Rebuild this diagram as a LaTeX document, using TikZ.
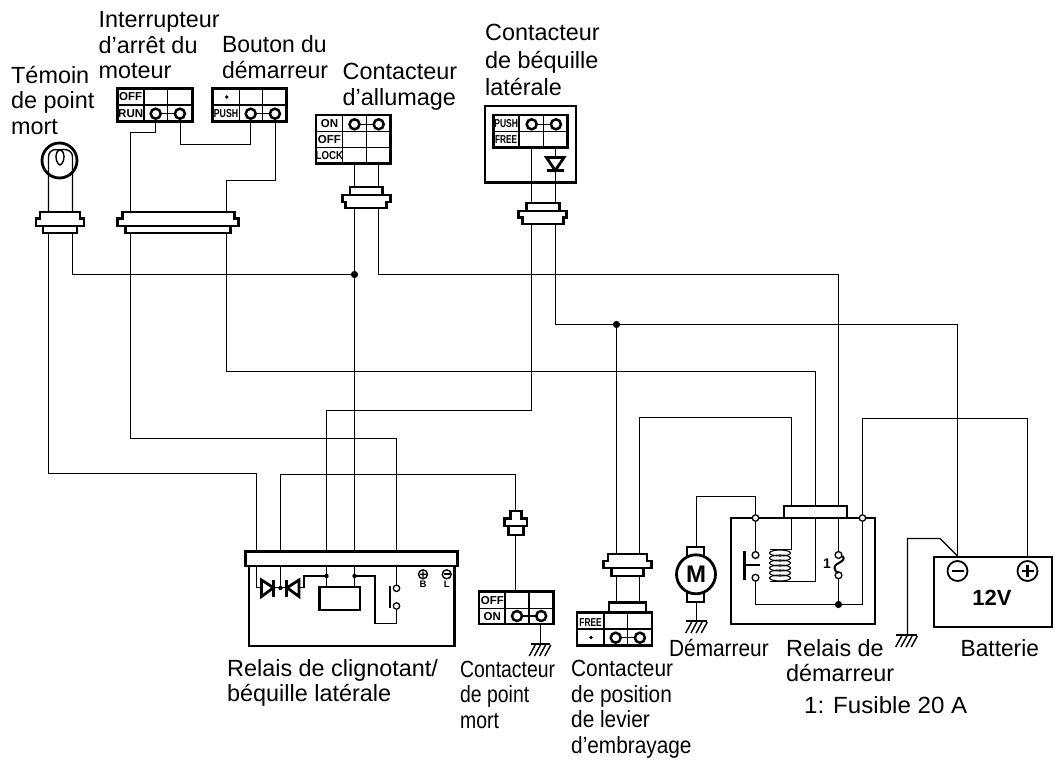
\documentclass[tikz,border=0pt]{standalone}
\usepackage{fontspec}
\setmainfont{Liberation Sans}
\tikzset{
  wire/.style={line width=1.4pt,black,line join=miter},
  heavy/.style={line width=2.8pt,black,line join=miter},
  grid/.style={line width=1.3pt,black},
  lbl/.style={font=\fontsize{23.4}{25.5}\selectfont,inner sep=0pt,anchor=base west,transform shape},
  tag/.style={font=\fontsize{11.5}{11.5}\selectfont\bfseries,inner sep=0pt,transform shape},
  term/.style={line width=2.5pt,fill=white,draw=black},
  odot/.style={line width=1.3pt,fill=white,draw=black},
  bdot/.style={fill=black,draw=none}
}
\newcommand{\conn}[9]{% cx y1 y2 y3 y4 h1 h2 h3 ycross
  \draw[heavy,fill=white] ({#1-#6},#2) -- ({#1+#6},#2) -- ({#1+#6},#3) -- ({#1+#7},#3) -- ({#1+#7},#4)
    -- ({#1+#8},#4) -- ({#1+#8},#5) -- ({#1-#8},#5) -- ({#1-#8},#4) -- ({#1-#7},#4) -- ({#1-#7},#3) -- ({#1-#6},#3) -- cycle;
  \draw[heavy] ({#1-#7},#9) -- ({#1+#7},#9);}
\newcommand{\gnd}[3]{% x y half
  \draw[heavy] ({#1-#3},#2) -- ({#1+#3},#2);
  \foreach \k in {-1.5,-.5,.5,1.5}{\draw[wire] ({#1+\k*5.2+3},{#2+1}) -- ({#1+\k*5.2-3},{#2+12});}}
\newcommand{\sw}[2]{% x y of a pair of rings joined
  \draw[wire] (#1,#2) -- ++(24,0);
  \draw[term] (#1,#2) circle[radius=5];
  \draw[term] ({#1+24.2},#2) circle[radius=5];}
\begin{document}
\begin{tikzpicture}[x=1pt,y=-1pt]
\useasboundingbox (0,0) rectangle (1059,760);
% terminals
\coordinate (lampL) at (48.5,233);
\coordinate (lampR) at (72.5,233);
\coordinate (motL) at (130.5,233);
\coordinate (motR) at (226.5,233);
\coordinate (ignL) at (354.5,208);
\coordinate (ignR) at (378.5,208);
\coordinate (sideL) at (531.5,224);
\coordinate (sideR) at (555.5,224);
\coordinate (fl1) at (256.5,552);
\coordinate (fl2) at (280.5,552);
\coordinate (fl3) at (326.5,552);
\coordinate (fl4) at (354.5,552);
\coordinate (fl5) at (396.5,552);
\coordinate (nmT) at (515.5,511);
\coordinate (clutchL) at (616.5,554);
\coordinate (clutchR) at (639.5,554);
\coordinate (strA) at (791.5,506);
\coordinate (strB) at (815.5,506);
\coordinate (strC) at (838.5,506);
\coordinate (strD) at (862.5,518);
\coordinate (strE) at (755.5,518);
\coordinate (batM) at (957.5,557);
\coordinate (batP) at (1027.5,557);
\coordinate (jA) at (354.5,274.5);
\coordinate (jB) at (616.5,324.5);
\coordinate (motorT) at (696.5,547);
\coordinate (runA) at (155.5,119);
\coordinate (runB) at (180.5,119);
\coordinate (pushA) at (250.5,119);
\coordinate (pushB) at (275.5,119);
\coordinate (motTL) at (130.5,212);
\coordinate (motTR) at (226.5,212);
% harness
\draw[wire] (lampL) -- ++(0,240.5) -| (fl1);
\draw[wire] (lampR) |- (jA);
\draw[wire] (ignL) -- (fl4);
\draw[wire] (ignR) -- ++(0,66.5) -| (strC);
\draw[wire] (sideL) -- ++(0,186.5) -| (fl3);
\draw[wire] (sideR) |- (jB);
\draw[wire] (jB) -| (batM);
\draw[wire] (jB) -- (clutchL);
\draw[wire] (clutchR) -- ++(0,-136.5) -| (strA);
\draw[wire] (motR) -- ++(0,138.5) -| (strB);
\draw[wire] (motL) -- ++(0,205.5) -| (fl5);
\draw[wire] (fl2) -- ++(0,-77.5) -| (nmT);
\draw[wire] (batP) -- ++(0,-138.5) -| (strD);
\draw[wire] (motorT) -- ++(0,-50.5) -| (strE);
\draw[wire] (runA) -- ++(0,13.5) -| (motTL);
\draw[wire] (runB) -- ++(0,25.5) -| (pushA);
\draw[wire] (pushB) -- ++(0,61.5) -| (motTR);
\fill[bdot] (jA) circle[radius=3.6];
\fill[bdot] (jB) circle[radius=3.6];
% lamp
\draw[wire] (48.5,212) -- (48.5,157) .. controls (48.5,148) and (60,148) .. (63,152) .. controls (66,158) and (62,165) .. (60,165) .. controls (58,165) and (54,158) .. (57,152) .. controls (60,148) and (72.5,148) .. (72.5,157) -- (72.5,212);
\draw[line width=2.8pt] (59.5,160.5) circle[radius=17.5];
% connectors
\conn{60}{212}{218.5}{226}{233}{20}{24}{17}{226}
\conn{178.3}{212}{218.5}{226}{233}{56}{60.5}{52.5}{226}
\conn{366.3}{187}{195}{202}{208}{16.3}{24}{20.5}{195}
\conn{542.8}{203}{211}{217.5}{224}{16.3}{24}{20.5}{211}
\conn{627.4}{554}{561}{568}{576}{19.5}{24}{16}{568}
\conn{515.7}{511}{518.3}{526}{535}{5.5}{11.3}{7.5}{526}
% engine stop switch
\draw[heavy] (117.3,88.7) rectangle (192.3,121.7);
\draw[grid] (117.3,105) -- (192.3,105) (144,88.7) -- (144,121.7) (167.7,88.7) -- (167.7,121.7);
\node[tag] (tOffA) at (130.7,97) {OFF};
\node[tag] (tRun) at (130.7,113.5) {RUN};
\sw{155.7}{113.7}
% starter button
\draw[heavy] (212.7,88.7) rectangle (286.7,121.7);
\draw[grid] (212.7,105) -- (286.7,105) (239.3,88.7) -- (239.3,121.7) (262.7,88.7) -- (262.7,121.7);
\fill[bdot] (226.7,97) circle[radius=1.8];
\node[tag,xscale=.76] (tPushA) at (226,113.5) {PUSH};
\sw{250.7}{113.7}
% ignition switch
\draw[wire] (354.5,163) -- (354.5,187) (378.5,163) -- (378.5,187);
\draw[heavy] (316,115) rectangle (390.7,163.3);
\draw[grid] (316,131.7) -- (390.7,131.7) (316,147.7) -- (390.7,147.7) (342.7,115) -- (342.7,163.3) (366.7,115) -- (366.7,163.3);
\node[tag] (tOnA) at (329.5,124) {ON};
\node[tag] (tOffB) at (329.3,139.7) {OFF};
\node[tag,xscale=.84] (tLock) at (329.3,155.5) {LOCK};
\sw{354.5}{124.3}
% side stand switch
\draw[heavy] (485,106) rectangle (576,182.7);
\draw[wire] (531.5,147.7) -- (531.5,203) (555.5,147.7) -- (555.5,203);
\draw[heavy] (493.3,115) rectangle (567.7,147.7);
\draw[grid] (493.3,131.7) -- (567.7,131.7) (519,115) -- (519,147.7) (543.3,115) -- (543.3,147.7);
\node[tag,xscale=.74] (tPushB) at (506.2,124) {PUSH};
\node[tag,xscale=.72] (tFreeA) at (506.2,139.5) {FREE};
\sw{531.7}{124.3}
\draw[heavy,fill=white] (546.5,157.5) -- (564,157.5) -- (555.2,170.5) -- cycle;
\draw[heavy] (546.5,170.7) -- (564,170.7);
% flasher relay
\draw[heavy] (249,566) -- (249,646) -- (454.3,646) -- (454.3,566);
\draw[heavy,fill=white] (245.7,551.7) rectangle (457.7,566);
\draw[wire] (256.5,566) -- (256.5,587.7) -- (262,587.7);
\draw[wire] (280.5,566) -- (280.5,587.7);
\draw[wire] (273,587.7) -- (288,587.7);
\draw[wire] (299,587.7) -- (304,587.7) -- (304,576) -- (326.5,576);
\draw[wire] (326.5,566) -- (326.5,587) (354.5,566) -- (354.5,587);
\draw[wire] (354.5,576) -- (375,576) -- (375,623.3) -- (396.5,623.3) -- (396.5,606);
\draw[wire] (396.5,566) -- (396.5,584.6);
\draw[heavy,fill=white] (261.5,580) -- (273.5,587.7) -- (261.5,596.5) -- cycle;
\draw[heavy] (273.7,579.5) -- (273.7,596.5);
\draw[heavy,fill=white] (299,580) -- (287,587.7) -- (299,596.5) -- cycle;
\draw[heavy] (286.7,579.5) -- (286.7,596.5);
\fill[bdot] (280.5,588) circle[radius=2.2];
\fill[bdot] (326.5,576) circle[radius=2.2];
\fill[bdot] (354.5,576) circle[radius=2.2];
\draw[heavy] (319.3,587) rectangle (360,610);
\draw[heavy] (390,586) -- (390,608.3);
\draw[odot] (396.5,588.3) circle[radius=3.2];
\draw[odot] (396.5,606) circle[radius=3.2];
\draw[wire] (423,574.3) circle[radius=4.5] (420,574.3) -- (426,574.3) (423,571.3) -- (423,577.3);
\draw[wire] (446.7,574.3) circle[radius=4.5];
\draw[line width=1.8pt] (443.7,574.3) -- (449.7,574.3);
\node[tag,font=\fontsize{9.5}{9.5}\selectfont\bfseries] (tB) at (423,584.5) {B};
\node[tag,font=\fontsize{9.5}{9.5}\selectfont\bfseries] (tL) at (446.7,584.5) {L};
% neutral switch
\draw[wire] (515.5,535) -- (515.5,591.7);
\draw[wire] (540.5,624) -- (540.5,644);
\draw[heavy] (479,591.7) rectangle (553.3,624);
\draw[grid] (479,608.3) -- (553.3,608.3) (505,591.7) -- (505,624) (529,591.7) -- (529,624);
\node[tag] (tOffC) at (492.3,601) {OFF};
\node[tag] (tOnB) at (492.3,616.3) {ON};
\sw{517}{616}
\gnd{540}{644}{9.5}
% clutch switch
\draw[wire] (616.5,576) -- (616.5,603) (639.5,576) -- (639.5,603);
\draw[heavy,fill=white] (609,602.5) rectangle (646,612.7);
\draw[heavy] (577,612.7) rectangle (652,645.7);
\draw[grid] (577,629) -- (652,629) (604,612.7) -- (604,645.7) (627.7,612.7) -- (627.7,645.7);
\node[tag,xscale=.72] (tFreeB) at (590.5,623) {FREE};
\fill[bdot] (591,637.5) circle[radius=1.8];
\sw{615.7}{637.7}
% motor
\draw[heavy,fill=white] (687,547) rectangle (704,602);
\draw[heavy,fill=white] (696,574.3) circle[radius=19.5];
\node[font=\fontsize{24}{24}\selectfont\bfseries,inner sep=0pt] (tM) at (696,574.5) {M};
\draw[wire] (696.5,602) -- (696.5,621);
\gnd{696.5}{621}{10.5}
% starter relay
\draw[heavy] (731,518) rectangle (875,624);
\draw[heavy,fill=white] (784,506) rectangle (847,518);
\draw[wire] (755.5,518) -- (755.5,552);
\draw[wire] (755.5,581) -- (755.5,604.5) -- (862.5,604.5) -- (862.5,518);
\draw[wire] (791.5,518) -- (791.5,549.5) -- (770,549.5);
\draw[wire] (815.5,518) -- (815.5,581.5) -- (770,581.5);
\draw[wire] (838.5,518) -- (838.5,552) (838.5,578) -- (838.5,604.5);
\foreach \yy in {553,558,563,568,573,578}{\draw[line width=1.1pt] (780,\yy) ellipse[x radius=10.5,y radius=3];}
\draw[heavy] (744.7,551) -- (744.7,580);
\draw[heavy] (744.7,565) -- (760,565);
\draw[odot] (755.5,555) circle[radius=3.4];
\draw[odot] (755.5,577.7) circle[radius=3.4];
\draw[odot] (838.5,555) circle[radius=3.4];
\draw[odot] (838.5,575.3) circle[radius=3.4];
\draw[line width=2pt] (842.5,556) .. controls (847.5,562) and (834.5,562) .. (834.5,568) .. controls (834.5,571) and (836.5,572) .. (838.5,573);
\node[font=\fontsize{14}{14}\selectfont\bfseries,inner sep=0pt] (tOne) at (827,564) {1};
\fill[bdot] (838.5,604.5) circle[radius=3.6];
\draw[odot] (strE) circle[radius=3.2];
\draw[odot] (strD) circle[radius=3.2];
% battery
\draw[wire] (957.5,556) -- (940,538.5) -- (907.5,538.5) -- (907.5,635);
\gnd{906.5}{635}{10.5}
\draw[heavy] (934,557) rectangle (1052,627);
\draw[line width=1.8pt] (957.5,571) circle[radius=10] (1027.5,571) circle[radius=10];
\draw[line width=2.4pt] (951.5,571) -- (963.5,571) (1021.5,571) -- (1033.5,571) (1027.5,565) -- (1027.5,577);
\node[font=\fontsize{22}{22}\selectfont\bfseries,inner sep=0pt] (tVolt) at (992,598) {12V};
% labels
\node[lbl] (lLamp) at (11,83) {\vtop{\hbox{Témoin}\hbox{de point}\hbox{mort}}};
\node[lbl] (lStop) at (98.5,28) {\vtop{\hbox{Interrupteur}\hbox{d’arrêt du}\hbox{moteur}}};
\node[lbl,xscale=.98] (lPush) at (222,52.5) {\vtop{\hbox{Bouton du}\hbox{démarreur}}};
\node[lbl] (lIgn) at (342.5,79.5) {\vtop{\hbox{Contacteur}\hbox{d’allumage}}};
\node[lbl] (lSide) at (485,41) {\vtop{\baselineskip=27.5pt\hbox{Contacteur}\hbox{de béquille}\hbox{latérale}}};
\node[lbl] (lFlash) at (227,676) {\vtop{\hbox{Relais de clignotant/}\hbox{béquille latérale}}};
\node[lbl,xscale=.83] (lNeut) at (460,677) {\vtop{\hbox{Contacteur}\hbox{de point}\hbox{mort}}};
\node[lbl,xscale=.89] (lClutch) at (571,676.5) {\vtop{\hbox{Contacteur}\hbox{de position}\hbox{de levier}\hbox{d’embrayage}}};
\node[lbl,xscale=.89] (lMotor) at (669,656) {Démarreur};
\node[lbl] (lRelay) at (786,656) {\vtop{\hbox{Relais de}\hbox{démarreur}}};
\node[lbl,xscale=.97] (lBat) at (960.5,656) {Batterie};
\node[lbl,xscale=1.03] (lFuse) at (804,713) {1: Fusible 20 A};
\end{tikzpicture}
\end{document}
